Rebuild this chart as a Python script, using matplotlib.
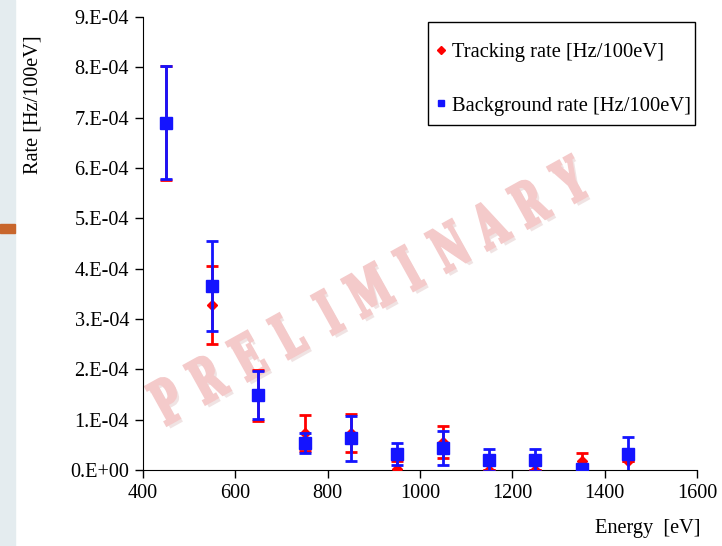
import matplotlib
matplotlib.use("Agg")
import matplotlib.pyplot as plt
from matplotlib.ticker import FuncFormatter
from matplotlib.lines import Line2D
from matplotlib.textpath import TextPath
from matplotlib.font_manager import FontProperties
from matplotlib.patches import PathPatch
from matplotlib.transforms import Affine2D
import matplotlib.patheffects as pe

plt.rcParams['font.family'] = ['Liberation Serif', 'DejaVu Serif']

energy = [450, 550, 650, 750, 850, 950, 1050, 1150, 1250, 1350, 1450]

track_rate = [6.9e-4, 3.28e-4, 1.48e-4, 0.73e-4, 0.73e-4, 0.02e-4, 0.55e-4, 0.0, 0.0, 0.18e-4, 0.18e-4]
track_err = [1.13e-4, 0.77e-4, 0.50e-4, 0.36e-4, 0.38e-4, 0.15e-4, 0.32e-4, 0.0, 0.0, 0.16e-4, 0.0]

bkg_rate = [6.9e-4, 3.66e-4, 1.49e-4, 0.53e-4, 0.63e-4, 0.31e-4, 0.43e-4, 0.20e-4, 0.20e-4, 0.01e-4, 0.31e-4]
bkg_err = [1.12e-4, 0.89e-4, 0.47e-4, 0.20e-4, 0.45e-4, 0.22e-4, 0.34e-4, 0.21e-4, 0.21e-4, 0.03e-4, 0.35e-4]

red = '#ff0000'
blue = '#1414ff'
W, H = 722, 546

fig = plt.figure(figsize=(7.22, 5.46), dpi=100)

# slide background strip on the left
fig.patches.append(plt.Rectangle((0, 0), 15 / W, 1, transform=fig.transFigure,
                                 color='#e4ecef', zorder=0))
fig.patches.append(plt.Rectangle((0, 1 - 233 / H), 15 / W, 9 / H, transform=fig.transFigure,
                                 color='#c8662c', zorder=1))

# watermark: tall slab letters along a slanted line
word = 'PRELIMINARY'
wm_font = FontProperties(family='DejaVu Serif', weight='bold')
x0, y0, x1, y1 = 167, 400, 570, 180
for i, ch in enumerate(word):
    t = i / (len(word) - 1)
    px = x0 + (x1 - x0) * t
    py = H - (y0 + (y1 - y0) * t)
    tp = TextPath((0, 0), ch, size=1, prop=wm_font)
    ext = tp.get_extents()
    cx, cy = (ext.x0 + ext.x1) / 2, (ext.y0 + ext.y1) / 2
    tr = Affine2D().translate(-cx, -cy).scale(36, 60).rotate_deg(29).translate(px, py)
    patch = PathPatch(tp, transform=tr, facecolor='#f4caca', edgecolor='#f4caca', lw=2.2,
                      zorder=0,
                      path_effects=[pe.withSimplePatchShadow(offset=(2.5, -2.5),
                                                             shadow_rgbFace='#ead8d8', alpha=0.7)])
    fig.add_artist(patch)

ax = fig.add_axes([143 / W, 1 - 470 / H, 554 / W, 453 / H])
ax.patch.set_alpha(0)

ax.errorbar(energy, track_rate, yerr=track_err, fmt='D', color=red, ms=5,
            elinewidth=2, capsize=4, capthick=2, zorder=3)
ax.errorbar(energy, bkg_rate, yerr=bkg_err, fmt='s', color=blue, ms=8,
            elinewidth=2, capsize=4, capthick=2, zorder=4)

ax.set_xlim(400, 1600)
ax.set_ylim(0, 9e-4)
ax.set_xticks(range(400, 1601, 200))
ax.set_yticks([i * 1e-4 for i in range(10)])


def yfmt(v, pos):
    n = round(v / 1e-4)
    if n == 0:
        return '0.E+00'
    return '%d.E-04' % n


ax.yaxis.set_major_formatter(FuncFormatter(yfmt))
ax.tick_params(labelsize=14.6, direction='out', length=6, width=1, pad=4)
ax.spines['top'].set_visible(False)
ax.spines['right'].set_visible(False)

fig.text(33 / W, 1 - 105 / H, 'Rate [Hz/100eV]', rotation=90, fontsize=14.6,
         ha='center', va='center')
fig.text(648 / W, 1 - 528 / H, 'Energy  [eV]', fontsize=14.6, ha='center', va='center')

# legend frame drawn by hand so the padding matches
fig.patches.append(plt.Rectangle((428 / W, 1 - 125 / H), 267 / W, 103 / H,
                                 transform=fig.transFigure, facecolor='white',
                                 edgecolor='black', lw=1.0, zorder=5))
handles = [Line2D([], [], ls='none', marker='D', color=red, ms=4),
           Line2D([], [], ls='none', marker='s', color=blue, ms=5)]
labels = ['Tracking rate [Hz/100eV]', 'Background rate [Hz/100eV]']
leg = fig.legend(handles, labels, loc='upper left', bbox_to_anchor=(436 / W, 1 - 43 / H),
                 fontsize=14.8, frameon=False, handlelength=0.5, handletextpad=0.28,
                 labelspacing=1.65, borderpad=0, borderaxespad=0)
leg.set_zorder(6)

fig.savefig('out.png', dpi=100)
